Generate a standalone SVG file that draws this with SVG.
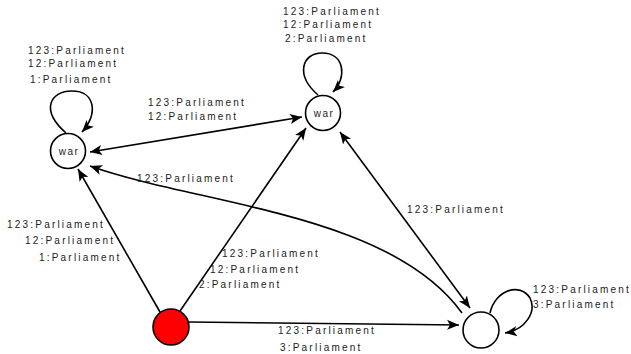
<svg xmlns="http://www.w3.org/2000/svg" width="631" height="354" viewBox="0 0 631 354">
<style>
.node{fill:#fff;stroke:#000;stroke-width:1.6}
.edge{fill:none;stroke:#000;stroke-width:1.6}
.lbl{font-family:"Liberation Sans",Arial,sans-serif;font-size:10px;letter-spacing:2.2px;fill:#222}
.nl{font-family:"Liberation Sans",Arial,sans-serif;font-size:10px;letter-spacing:1.5px;fill:#222;text-anchor:middle}
</style>
<defs>
<marker id="ah" markerUnits="userSpaceOnUse" markerWidth="14" markerHeight="12" refX="12" refY="5" orient="auto-start-reverse" viewBox="0 0 14 10">
<path d="M0,0 L12,5 L0,10 L3,5 z" fill="#000"/>
</marker>
</defs>
<rect width="631" height="354" fill="#fff"/>
<g id="connectors">
<path class="edge" d="M66 133 C40 110 50 91 72 91 C96 91 98 115 82 132" marker-end="url(#ah)"/>
<path class="edge" d="M318 95 C295 75 302 53 322 53 C345 53 347 78 333 92" marker-end="url(#ah)"/>
<path class="edge" d="M490 313 C495 290 520 282 530 298 C537 312 525 330 505 333" marker-end="url(#ah)"/>
<path class="edge" d="M90 152 L302 117" marker-start="url(#ah)" marker-end="url(#ah)"/>
<path class="edge" d="M462 313 C390 213 200 205 90 166" marker-end="url(#ah)"/>
<path class="edge" d="M160 312 L78 169" marker-end="url(#ah)"/>
<path class="edge" d="M180 311 L306 128" marker-end="url(#ah)"/>
<path class="edge" d="M189 322 L459 325" marker-end="url(#ah)"/>
<path class="edge" d="M340 132 L470 308" marker-start="url(#ah)" marker-end="url(#ah)"/>
</g>
<g id="labels">
<text class="lbl" x="28" y="54">123:Parliament</text>
<text class="lbl" x="28" y="67">12:Parliament</text>
<text class="lbl" x="30" y="83">1:Parliament</text>
<text class="lbl" x="283" y="15">123:Parliament</text>
<text class="lbl" x="283" y="28">12:Parliament</text>
<text class="lbl" x="285" y="42">2:Parliament</text>
<text class="lbl" x="148" y="106">123:Parliament</text>
<text class="lbl" x="148" y="120">12:Parliament</text>
<text class="lbl" x="137" y="182">123:Parliament</text>
<text class="lbl" x="407" y="213">123:Parliament</text>
<text class="lbl" x="7" y="228">123:Parliament</text>
<text class="lbl" x="25" y="244">12:Parliament</text>
<text class="lbl" x="39" y="261">1:Parliament</text>
<text class="lbl" x="222" y="257">123:Parliament</text>
<text class="lbl" x="210" y="273">12:Parliament</text>
<text class="lbl" x="199" y="288">2:Parliament</text>
<text class="lbl" x="278" y="334">123:Parliament</text>
<text class="lbl" x="280" y="351">3:Parliament</text>
<text class="lbl" x="533" y="293">123:Parliament</text>
<text class="lbl" x="533" y="308">3:Parliament</text>
</g>
<g id="n1"><circle class="node" cx="68" cy="151" r="17.5"/><text class="nl" x="69" y="155">war</text></g>
<g id="n2"><circle class="node" cx="323" cy="113" r="17.5"/><text class="nl" x="324" y="117">war</text></g>
<g id="n3"><circle class="node" cx="171" cy="327" r="18" style="fill:#f00"/></g>
<g id="n4"><circle class="node" cx="481" cy="330" r="18"/></g>
</svg>
